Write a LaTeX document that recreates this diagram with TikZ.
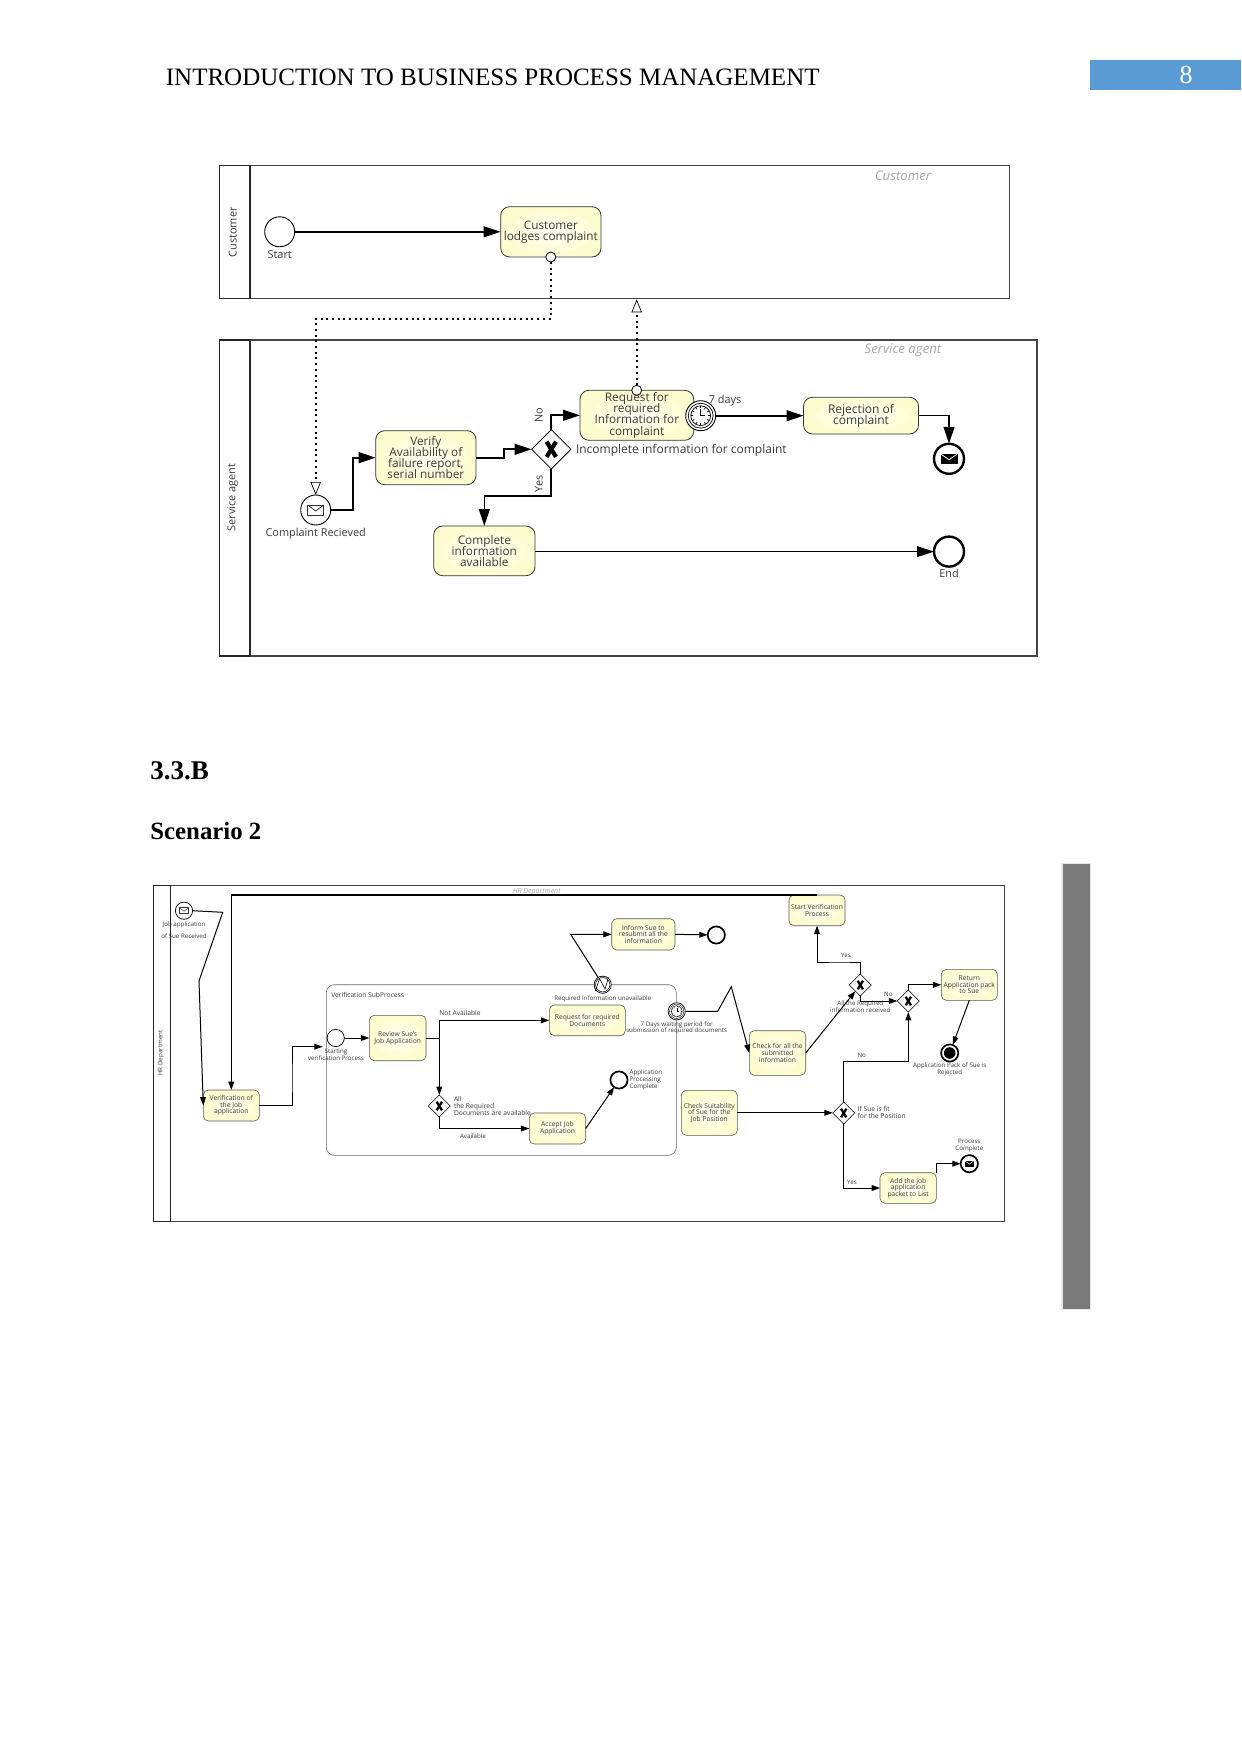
\documentclass[tikz,border=0pt]{standalone}
\usepackage{fontspec}
\setmainfont{Liberation Serif}
\setsansfont{Open Sans}
\usetikzlibrary{arrows.meta,shapes.geometric}
\definecolor{ink}{HTML}{3A3A3A}
\definecolor{poolline}{HTML}{444444}
\definecolor{taskpale}{HTML}{FFFFF4}
\definecolor{taskdeep}{HTML}{FCFCCE}
\definecolor{pageblue}{HTML}{5B9BD5}
\definecolor{sidegrey}{HTML}{7A7A7A}
% Tight leading: Open Sans is taller than these baselines, so lineskip is switched off
\newcommand\bigtext{\sffamily\fontsize{5.9}{5.6}\selectfont\lineskiplimit=-8pt }
\newcommand\bigtextsm{\sffamily\fontsize{5.45}{5.6}\selectfont\lineskiplimit=-8pt }
\newcommand\bigtextlg{\sffamily\fontsize{6}{5.6}\selectfont\lineskiplimit=-8pt }
\newcommand\smalltext{\sffamily\fontsize{3.35}{3.35}\selectfont\lineskiplimit=-8pt }
\newcommand\labeltext{\sffamily\fontsize{3.1}{3.35}\selectfont\lineskiplimit=-8pt }
\tikzset{
  anybox/.style={inner sep=0pt,outer sep=0pt,align=center,text=ink},
  poolbox/.style={anybox,draw=poolline,line width=.6pt},
  headbox/.style={anybox,draw=black!85,line width=.6pt},
  subbox/.style={anybox,draw=black!60,line width=.3pt,rounded corners=4pt},
  taskU/.style={anybox,draw=black!80,line width=.4pt,rounded corners=4.5pt,inner color=taskpale,outer color=taskdeep,font=\bigtext},
  taskL/.style={anybox,draw=black!65,line width=.3pt,rounded corners=2.5pt,inner color=taskpale,outer color=taskdeep,font=\smalltext},
  lblU/.style={inner sep=0pt,outer sep=0pt,align=center,text=ink,font=\bigtextsm},
  lblL/.style={inner sep=0pt,outer sep=0pt,align=center,text=ink,font=\labeltext},
  lblLw/.style={lblL,align=left,anchor=west},
  lblM/.style={lblL,font=\smalltext},
  lanetitle/.style={inner sep=0pt,outer sep=0pt,text=ink,font=\bigtextsm,rotate=90},
  faint/.style={inner sep=0pt,outer sep=0pt,text=black!35,font=\sffamily\fontsize{6.6}{7}\selectfont\itshape},
  evU/.style={circle,draw=black,fill=white,line width=.45pt,inner sep=0pt,outer sep=0pt,minimum size=15pt},
  evUend/.style={evU,line width=1.2pt},
  evL/.style={circle,draw=black,fill=white,line width=.35pt,inner sep=0pt,outer sep=0pt,minimum size=8.6pt},
  evLend/.style={evL,line width=.85pt},
  port/.style={circle,draw=black,fill=white,line width=.4pt,inner sep=0pt,outer sep=0pt,minimum size=5pt},
  gwU/.style={diamond,aspect=1,draw=black,fill=white,line width=.4pt,inner sep=0pt,outer sep=0pt,minimum size=19.6pt},
  gwL/.style={diamond,aspect=1,draw=black,fill=white,line width=.3pt,inner sep=0pt,outer sep=0pt,minimum size=11pt},
  flowU/.style={draw=black,line width=.85pt,-{Triangle[length=8.5pt,width=5.4pt]}},
  flowUthin/.style={draw=black,line width=.5pt,-{Triangle[length=8.5pt,width=5.4pt]}},
  flowL/.style={draw=black,line width=.5pt,-{Triangle[length=4.2pt,width=2.9pt]}},
  flowLplain/.style={draw=black,line width=.5pt},
  msgflow/.style={draw=black,line width=1pt,dash pattern=on 1pt off 1.85pt,-{Triangle[open,fill=white,length=6.5pt,width=5.2pt,line width=.35pt,sep=0pt]}}
}
% A box given by its two corners, in page pixels
\newcommand\cornerbox[7]{%
  \node[#1,minimum width={(#5-#3)*0.5pt},minimum height={(#6-#4)*0.5pt}] (#2)
    at ({(#3+#5)/2},{(#4+#6)/2}) {#7};}
% Envelope centred on an event
\newcommand\envelope[5]{%
  \begin{scope}[shift={(#1)}]
    \draw[#4,line join=round] (-#2,-#3) rectangle (#2,#3);
    \draw[#5,line join=round] (-#2,-#3) -- (0,.2*#3) -- (#2,-#3);
  \end{scope}}
% Clock drawn in a double ring
\newcommand\clockface[3]{%
  \begin{scope}[shift={(#1)}]
    \draw[line width=#3] (0,0) circle (#2*.83);
    \draw[line width=#3] (0,0) circle (#2*.66);
    \foreach \a in {0,30,...,330}
      \draw[line width=#3] (\a:#2*.5) -- (\a:#2*.66);
    \draw[line width=#3] (0,-#2*.42) -- (0,0) -- (#2*.3,0);
  \end{scope}}
% Exclusive gateway cross
\newcommand\gatecross[3]{%
  \begin{scope}[shift={(#1)}]
    \draw[line width=#3] (-#2*.62,-#2) -- (#2*.62,#2);
    \draw[line width=#3] (-#2*.62,#2) -- (#2*.62,-#2);
  \end{scope}}
\begin{document}
\begin{tikzpicture}[x=0.5pt,y=-0.5pt]
\useasboundingbox (0,0) rectangle (1241,1754);
\fill[white] (0,0) rectangle (1241,1754);

% Page furniture
\node[anchor=base west,inner sep=0pt,font=\fontsize{12.5}{14}\selectfont] (pagetitle) at (165.5,86) {INTRODUCTION TO BUSINESS PROCESS MANAGEMENT};
\node[fill=pageblue,inner sep=0pt,minimum width=75.5pt,minimum height=14.6pt] (pagebar) at (1165.5,75) {};
\node[anchor=base,inner sep=0pt,text=white,font=\fontsize{13}{14}\selectfont] (pagenum) at (1186,83.5) {8};
\node[anchor=base west,inner sep=0pt,font=\fontsize{13.5}{16}\selectfont\bfseries] (secnum) at (150,779) {3.3.B};
\node[anchor=base west,inner sep=0pt,font=\fontsize{12.4}{16}\selectfont\bfseries] (secname) at (150,839) {Scenario 2};
\cornerbox{anybox,fill=black!9}{sideedge}{1061}{863}{1091}{1310}{}
\cornerbox{anybox,fill=sidegrey}{sidebar}{1062.7}{864}{1090}{1309}{}

% ---- Complaint handling: customer and service agent pools ----
\cornerbox{poolbox}{poolC}{219.5}{165.7}{1009.5}{298.3}{}
\cornerbox{headbox}{headC}{219.5}{165.7}{250}{298.3}{}
\cornerbox{poolbox}{poolS}{219.5}{340}{1037}{656}{}
\cornerbox{headbox}{headS}{219.5}{340}{250}{656}{}
\node[lanetitle] (titleC) at (232.7,232.3) {Customer};
\node[lanetitle] (titleS) at (232.7,497.7) {Service agent};
\node[faint] (tagC) at (903,175.7) {Customer};
\node[faint] (tagS) at (903,350.5) {Service agent};

\node[evU] (start) at (279.7,231.8) {};
\node[lblU] (startlbl) at (279.7,254.3) {Start};
\cornerbox{taskU}{lodges}{500.7}{206.7}{601}{257}{Customer\\lodges complaint}
\node[port] (lodgesport) at (550.8,257) {};

\node[evU] (recv) at (315.7,510) {};
\envelope{recv}{8}{5}{draw=black!80,line width=.4pt}{draw=black!80,line width=.4pt}
\node[lblU] (recvlbl) at (315.7,533.5) {Complaint Recieved};
\cornerbox{taskU}{verify}{375.7}{430.7}{476}{484.7}{Verify\\Availability of\\failure report,\\serial number}
\node[gwU] (gw) at (551.3,449.3) {};
\gatecross{gw}{7.6}{2.1pt}
\cornerbox{taskU}{req}{580}{390.3}{693.7}{440.3}{Request for\\required\\Information for\\complaint}
\node[port] (reqport) at (636.7,390.3) {};
\node[evU] (timer) at (700.7,415.7) {};
\clockface{timer}{15}{.35pt}
\node[lblU,font=\bigtextlg,anchor=west] (incomplete) at (576,450.8) {Incomplete information for complaint};
\node[lblU] (daylbl) at (725,400.5) {7 days};
\cornerbox{taskU,font=\bigtextlg}{reject}{803.5}{397.3}{918.5}{434}{Rejection of\\complaint}
\node[evUend] (msgend) at (949,458.8) {};
\envelope{msgend}{8}{4.6}{fill=black,draw=black,line width=.3pt}{draw=white,line width=.4pt}
\cornerbox{taskU}{complete}{433.7}{526}{535}{575.7}{Complete\\information\\available}
\node[evUend] (finish) at (949,551.6) {};
\node[lblU] (finishlbl) at (949,573) {End};
\node[lblU,rotate=90] (nolbl) at (538.7,415.3) {No};
\node[lblU,rotate=90] (yeslbl) at (538.7,484) {Yes};

\coordinate (bendA) at (353.3,484);
\coordinate (bendB) at (504,455);
\coordinate (bendC) at (500,496.3);
\coordinate (bendD) at (400,318.7);
\coordinate (msgtip) at (636.7,299.3);

\draw[flowU] (start.east) -- (start.east -| lodges.west);
\draw[flowU] (recv.east) -| (bendA) |- (verify.west);
\draw[flowU] (verify.east) -| (bendB) |- (gw.west);
\draw[flowU] (gw.north) |- (req.west);
\draw[flowU] (gw.south) |- (bendC) -| (complete.north);
\draw[flowUthin] (complete.east |- finish.west) -- (finish.west);
\draw[flowU] (timer.east) -- (timer.east -| reject.west);
\draw[flowU] (reject.east) -| (msgend.north);
\draw[msgflow] (lodgesport.south) |- (bendD) -| (recv.north);
\draw[msgflow] (reqport.north) -- (msgtip);

% ---- Scenario 2: HR department pool ----
\cornerbox{poolbox}{poolH}{153.7}{885.3}{1004.3}{1221.3}{}
\cornerbox{headbox,line width=.4pt}{headH}{153.7}{885.3}{170.3}{1221.3}{}
\node[lblL,rotate=90] (titleH) at (161,1053) {HR Department};
\node[lblL,text=black!35,font=\sffamily\fontsize{3.5}{4}\selectfont\itshape] (tagH) at (536.7,892) {HR Department};

\cornerbox{subbox}{subproc}{326.3}{984.7}{676.3}{1155.3}{}
\node[lblM,anchor=west] (sublbl) at (331.3,995) {Verification SubProcess};

\node[evL] (jobstart) at (184,910.7) {};
\envelope{jobstart}{4.6}{3}{draw=black!80,line width=.25pt}{draw=black!80,line width=.25pt}
\node[lblL] (joblbl) at (184,930.3) {Job application\\[2.7pt]of Sue Received};
\cornerbox{taskL}{verif}{203.3}{1090}{259.3}{1121}{Verification of\\the Job\\application}
\cornerbox{taskL}{startverif}{789}{895}{845}{925.7}{Start Verification\\Process}

\node[evL] (substart) at (335.7,1038) {};
\node[lblL] (substartlbl) at (336,1054.7) {Starting\\verification Process};
\cornerbox{taskL}{review}{369.3}{1015.3}{426}{1060.7}{Review Sue's\\Job Application}
\node[lblM] (notavail) at (460,1013.3) {Not Available};
\node[lblL] (avail) at (473,1136) {Available};
\node[gwL] (gwa) at (439.3,1106) {};
\gatecross{gwa}{4.3}{1.15pt}
\node[lblLw,font=\smalltext] (alldocs) at (454,1105.8) {All\\the Required\\Documents are available};
\cornerbox{taskL}{reqdoc}{549.3}{1005}{625.3}{1035.7}{Request for required\\Documents}
\cornerbox{taskL}{accept}{529.3}{1113}{585.7}{1144}{Accept Job\\Application}
\node[evLend] (procend) at (619,1080) {};
\node[lblLw] (proclbl) at (629.7,1079.8) {Application\\Processing\\Complete};

\node[evL] (errev) at (602.7,984.7) {};
\draw[line width=.25pt] (errev.center) circle (3.6pt);
\draw[line width=.3pt,line join=round] (595.5,991) -- (599.5,978.5) -- (605,989) -- (608.5,977.5);
\node[lblL] (errlbl) at (602.7,998.7) {Required Information unavailable};
\cornerbox{taskL}{inform}{611.7}{918.7}{675}{950}{Inform Sue to\\resubmit all the\\information}
\node[evLend] (informend) at (716.3,935) {};

\node[evL] (timerb) at (676.7,1011.3) {};
\clockface{timerb}{8.6}{.2pt}
\node[lblL] (timerlbl) at (676.7,1028) {7 Days waiting period for\\submission of required documents};
\cornerbox{taskL}{check}{749.3}{1030.7}{805.7}{1075.3}{Check for all the\\submitted\\information}
\node[gwL] (gwone) at (860.3,985) {};
\gatecross{gwone}{4.3}{1.15pt}
\node[gwL] (gwtwo) at (908.3,1001) {};
\gatecross{gwtwo}{4.3}{1.15pt}
\node[lblL] (yesA) at (846,955.3) {Yes};
\node[lblL] (noA) at (888.3,994) {No};
\node[lblL] (allinfo) at (860.3,1007) {All the Required\\information received};
\cornerbox{taskL}{return}{941.3}{969.3}{997.3}{1000.3}{Return\\Application pack\\to Sue}
\node[evLend] (term) at (949.7,1053) {};
\fill[black] (term.center) circle (2.9pt);
\node[lblL] (termlbl) at (949.7,1069.3) {Application Pack of Sue is\\Rejected};

\cornerbox{taskL}{suit}{681.3}{1090.3}{737.3}{1135.3}{Check Suitability\\of Sue for the\\Job Position}
\node[gwL] (gwthree) at (843.7,1113) {};
\gatecross{gwthree}{4.3}{1.15pt}
\node[lblLw,font=\smalltext] (fitlbl) at (857.7,1112.7) {If Sue is fit\\for the Position};
\node[lblL] (noB) at (861.7,1055.3) {No};
\node[lblL] (yesB) at (852,1182.7) {Yes};
\cornerbox{taskL}{addjob}{880}{1172.7}{936.3}{1203.3}{Add the job\\application\\packet to List}
\node[evLend] (procmsg) at (969.3,1163.7) {};
\envelope{procmsg}{4.2}{2.7}{fill=black,draw=black,line width=.2pt}{draw=white,line width=.25pt}
\node[lblL] (procmsglbl) at (969.3,1145.3) {Process\\Complete};

\coordinate (jobA) at (222.7,912.3);
\coordinate (jobB) at (199,981);
\coordinate (verifA) at (292,1080);
\coordinate (subentry) at (322.7,1046.7);
\coordinate (revjoin) at (439.3,1038);
\coordinate (errA) at (570.7,934.35);
\coordinate (timA) at (717.7,1011.3);
\coordinate (timB) at (731.3,986.7);
\coordinate (yesbend) at (840,962);
\coordinate (nobend) at (870,1061.3);

\draw[flowL] (jobstart.east) -- (jobA) -- (jobB) -- (verif.west);
\draw[flowL,line width=.7pt] (startverif.north) -| (verif.north);
\draw[flowL] (verif.east) -| (verifA) |- (subentry);
\draw[flowL] (substart.east) -- (substart.east -| review.west);
\draw[flowLplain] (review.east) -- (revjoin);
\draw[flowL] (revjoin) |- (reqdoc.west);
\draw[flowL] (revjoin) -- (gwa.north);
\draw[flowL] (gwa.south) |- (accept.west);
\draw[flowL] (accept.east) -- (procend);
\draw[flowL] (errev) -- (errA) -- (inform.west);
\draw[flowL] (inform.east) -- (informend);
\draw[flowL] (timerb.east) -- (timA) -- (timB) -- (check.west);
\draw[flowL] (check.east) -- (gwone);
\draw[flowL] (gwone.north) |- (yesbend) -| (startverif.south);
\draw[flowL] (gwone.south) |- (gwtwo.west);
\draw[flowL] (gwtwo.north) |- (return.west);
\draw[flowL] (return.south) -- (term);
\draw[flowL] (suit.east) -- (suit.east -| gwthree.west);
\draw[flowL] (gwthree.north) |- (nobend) -| (gwtwo.south);
\draw[flowL] (gwthree.south) |- (addjob.west);
\draw[flowL] (addjob.north east) |- (procmsg.west);
\end{tikzpicture}
\end{document}
